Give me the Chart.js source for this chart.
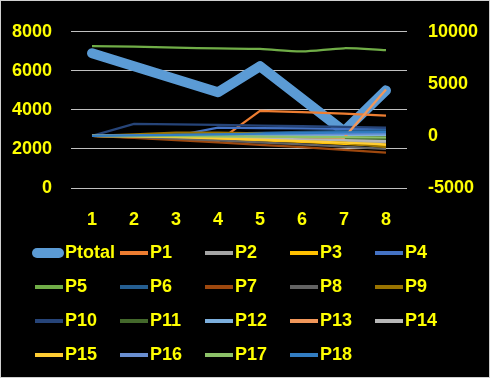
<!DOCTYPE html>
<html>
<head>
<meta charset="utf-8">
<script src="https://cdn.jsdelivr.net/npm/chart.js@4.4.1/dist/chart.umd.min.js"></script>
<style>
  html, body { margin: 0; padding: 0; background: #000; }
  #wrap { position: relative; width: 490px; height: 378px; overflow: hidden; background: #000; }
  #chart { position: absolute; left: 0; top: 0; }
  #frame { position: absolute; left: 0; top: 0; width: 490px; height: 378px; box-sizing: border-box; border: 1px solid #d0d0d0; pointer-events: none; }
  .txt { position: absolute; height: 22px; line-height: 22px; font: bold 18px "Liberation Sans", Arial, sans-serif; color: #ffff00; white-space: nowrap; }
  .mark { position: absolute; }
</style>
</head>
<body>
<div id="wrap">
  <canvas id="chart" width="490" height="378"></canvas>
  <div id="legend"></div>
  <div id="frame"></div>
</div>
<script>
const categories = ['1', '2', '3', '4', '5', '6', '7', '8'];

// left axis
const ptotal = [6905, 6238, 5571, 4905, 6238, 4571, 2905, 5000];

// right axis
const p1  = [0, -150, -300, -530, 2410, 2280, 2140, 1960];
const p2  = [0, -40, -100, -190, -300, -420, -520, -625];
const p3  = [0, -60, -150, -280, -420, -580, -760, -940];
const p4  = [0, 0, 0, 800, 760, 720, 670, 620];
const p5  = [8630, 8570, 8480, 8410, 8350, 8130, 8420, 8240];
const p6  = [0, 70, 140, 220, 300, 380, 460, 535];
const p7  = [0, -180, -400, -620, -850, -1080, -1350, -1610];
const p8  = [0, -100, -250, -430, -620, -820, -1030, -1250];
const p9  = [0, 150, 310, 320, 250, -250, -650, -1070];
const p10 = [0, 1160, 1120, 1070, 1000, 930, 870, 800];
const p11 = [0, -20, -50, -100, -160, -220, -270, -310];
const p12 = [0, 20, 40, 60, 70, 80, 85, 90];
const p13 = [0, -30, -60, -90, -120, -150, -180, 4460];
const p14 = [0, -30, -80, -150, -230, -320, -400, -490];
const p15 = [0, -50, -120, -230, -360, -500, -650, -800];
const p16 = [0, 30, 60, 100, 140, 170, 200, 220];
const p17 = [0, -10, -30, -50, -70, -90, -110, -130];
const p18 = [0, 50, 100, 160, 220, 280, 330, 360];

const leftTicks = [0, 2000, 4000, 6000, 8000];
const rightTicks = [-5000, 0, 5000, 10000];

const pSeries = [p1, p2, p3, p4, p5, p6, p7, p8, p9, p10, p11, p12, p13, p14, p15, p16, p17, p18];
const pColors = ['#ED7D31', '#A5A5A5', '#FFC000', '#4472C4', '#70AD47', '#255E91', '#9E480E', '#636363', '#997300',
                 '#264478', '#43682B', '#7CAFDD', '#F1975A', '#B7B7B7', '#FFCD33', '#698ED0', '#8CC168', '#327DC2'];

const yellow = '#ffff00';
Chart.defaults.font.family = '"Liberation Sans", Arial, sans-serif';
Chart.defaults.font.size = 18;
Chart.defaults.font.weight = 'bold';

const datasets = [{
    label: 'Ptotal',
    data: ptotal,
    yAxisID: 'y',
    borderColor: '#5B9BD5',
    borderWidth: 10,
    borderCapStyle: 'round',
    borderJoinStyle: 'round',
    pointRadius: 0,
    tension: 0,
    order: 100
}];
pSeries.forEach(function(values, i) {
    datasets.push({
        label: 'P' + (i + 1),
        data: values,
        yAxisID: 'y1',
        borderColor: pColors[i],
        borderWidth: 2.25,
        pointRadius: 0,
        tension: i === 4 ? 0.3 : 0,
        order: 18 - i
    });
});

function plain(v) { return String(v); }

new Chart(document.getElementById('chart'), {
    type: 'line',
    data: { labels: categories, datasets: datasets },
    options: {
        responsive: false,
        animation: false,
        layout: { padding: { top: 20, left: 0, right: 0, bottom: 0 } },
        plugins: { legend: { display: false }, tooltip: { enabled: false } },
        scales: {
            x: {
                offset: true,
                grid: { display: false },
                border: { display: false },
                ticks: { color: yellow, padding: 13 },
                afterFit: function(s) { s.height = 190; }
            },
            y: {
                position: 'left',
                min: 0, max: 8000,
                afterBuildTicks: function(s) { s.ticks = leftTicks.map(v => ({ value: v })); },
                grid: { color: '#c0c0c0', lineWidth: 1, drawTicks: false },
                border: { display: false },
                ticks: { color: yellow, padding: 19, callback: plain },
                afterFit: function(s) { s.width = 71; }
            },
            y1: {
                position: 'right',
                min: -5000, max: 10000,
                afterBuildTicks: function(s) { s.ticks = rightTicks.map(v => ({ value: v })); },
                grid: { display: false, drawTicks: false },
                border: { display: false },
                ticks: { color: yellow, padding: 21, callback: plain },
                afterFit: function(s) { s.width = 83; }
            }
        }
    }
});

// legend in a 5 column grid, like the original
const legend = document.getElementById('legend');
const colX = [65, 150, 235, 320, 405];
const rowY = [253, 287, 321, 355];
datasets.forEach(function(ds, i) {
    const cx = colX[i % 5];
    const cy = rowY[Math.floor(i / 5)];
    const mark = document.createElement('div');
    mark.className = 'mark';
    mark.style.background = ds.borderColor;
    if (i === 0) {
        mark.style.left = '32px';
        mark.style.width = '32px';
        mark.style.top = (cy - 5) + 'px';
        mark.style.height = '10px';
        mark.style.borderRadius = '5px';
    } else {
        mark.style.left = (cx - 30) + 'px';
        mark.style.width = '28px';
        mark.style.top = (cy - 2) + 'px';
        mark.style.height = '4px';
    }
    legend.appendChild(mark);
    const t = document.createElement('div');
    t.className = 'txt';
    t.style.left = cx + 'px';
    t.style.top = (cy - 11) + 'px';
    t.textContent = ds.label;
    legend.appendChild(t);
});
</script>
</body>
</html>
